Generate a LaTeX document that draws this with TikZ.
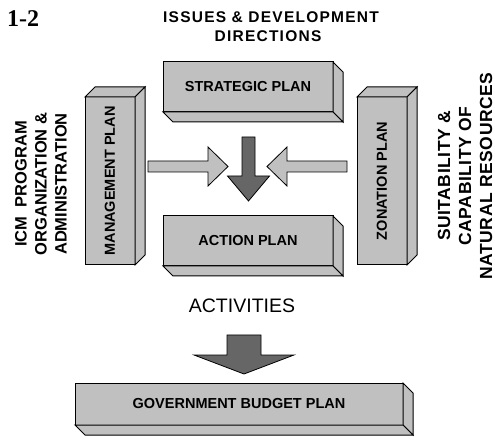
\documentclass[tikz,border=0pt]{standalone}
\usepackage{fontspec}
\setmainfont{Liberation Sans}
\newfontfamily\numfont{Liberation Serif}
\newfontfamily\widefont[LetterSpace=8]{Liberation Sans}
\newfontfamily\sidefont[LetterSpace=3]{Liberation Sans}
\definecolor{planfill}{RGB}{192,192,192}
\definecolor{darkfill}{RGB}{102,102,102}
\begin{document}
\begin{tikzpicture}[x=1pt,y=-1pt,line join=miter,
  plan/.style={draw,line width=1pt,fill=planfill,inner sep=0pt,outer sep=0pt},
  face/.style={draw,line width=1pt,fill=planfill},
  plantext/.style={font=\fontsize{14.5}{16}\selectfont\bfseries,inner sep=0pt},
  sidetext/.style={align=center,inner sep=0pt,rotate=90},
  darkarrow/.style={draw,line width=0.8pt,fill=darkfill},
  lightarrow/.style={draw,line width=0.8pt,fill=planfill}]
\pgfmathsetmacro{\kdep}{10}
\useasboundingbox (0,0) rectangle (495,443);
% plan boxes (front faces)
\node[plan,minimum width=170pt,minimum height=50pt] (strategic) at (248,87) {};
\node[plan,minimum width=170pt,minimum height=50pt] (action) at (248,241) {};
\node[plan,minimum width=328pt,minimum height=42pt] (budget) at (239,404) {};
\node[plan,minimum width=50pt,minimum height=168pt] (mgmt) at (110,181) {};
\node[plan,minimum width=50pt,minimum height=168pt] (zonation) at (382,181) {};
% depth, down and right
\foreach \b in {strategic,action,budget}{
\draw[face](\b.north east)--++(\kdep,\kdep)--([shift={(\kdep,\kdep)}]\b.south east)--(\b.south east)--cycle;
\draw[face](\b.south west)--++(\kdep,\kdep)--([shift={(\kdep,\kdep)}]\b.south east)--(\b.south east)--cycle;}
% depth, up and right
\foreach \b in {mgmt,zonation}{
\draw[face](\b.north west)--++(\kdep,-\kdep)--([shift={(\kdep,-\kdep)}]\b.north east)--(\b.north east)--cycle;
\draw[face](\b.north east)--++(\kdep,-\kdep)--([shift={(\kdep,-\kdep)}]\b.south east)--(\b.south east)--cycle;}
\node[plantext] (strategictext) at (strategic) {STRATEGIC PLAN};
\node[plantext] (actiontext) at (action) {ACTION PLAN};
\node[plantext] (budgettext) at (budget) {GOVERNMENT BUDGET PLAN};
\node[plantext,rotate=90] (mgmttext) at (mgmt) {MANAGEMENT PLAN};
\node[plantext,rotate=90] (zonationtext) at (zonation) {ZONATION PLAN};
% block arrows
\draw[darkarrow](242,137)--++(13,0)--++(0,39)--++(14.5,0)--++(-21,25)--++(-21,-25)--++(14.5,0)--cycle;
\draw[lightarrow](148,161)--++(60,0)--++(0,-14)--++(20,19.5)--++(-20,19.5)--++(0,-14)--++(-60,0)--cycle;
\draw[lightarrow](347,161)--++(-60,0)--++(0,-14)--++(-20,19.5)--++(20,19.5)--++(0,-14)--++(60,0)--cycle;
\draw[darkarrow](227,335)--++(34,0)--++(0,20)--++(33,0)--++(-50,19)--++(-50,-19)--++(33,0)--cycle;
% outer texts
\node[font=\numfont\fontsize{24}{28}\selectfont\bfseries,anchor=base west,inner sep=0pt] (fignum) at (7,27) {1-2};
\node[font=\widefont\fontsize{15.5}{19}\selectfont\bfseries,anchor=base,inner sep=0pt] (issues) at (271,23) {ISSUES \& DEVELOPMENT};
\node[font=\widefont\fontsize{15.5}{19}\selectfont\bfseries,anchor=base,inner sep=0pt] (directions) at (268,42) {DIRECTIONS};
\node[sidetext,font=\fontsize{16.5}{20}\selectfont\bfseries] (icm) at (41,184) {ICM\ \ PROGRAM\\ORGANIZATION \&\\ADMINISTRATION};
\node[sidetext,font=\sidefont\fontsize{17.5}{21}\selectfont\bfseries] (suit) at (465,176) {SUITABILITY \&\\CAPABILITY OF\\NATURAL RESOURCES};
\node[font=\fontsize{19.5}{22}\selectfont,anchor=base,inner sep=0pt] (activities) at (242,313) {ACTIVITIES};
\end{tikzpicture}
\end{document}
